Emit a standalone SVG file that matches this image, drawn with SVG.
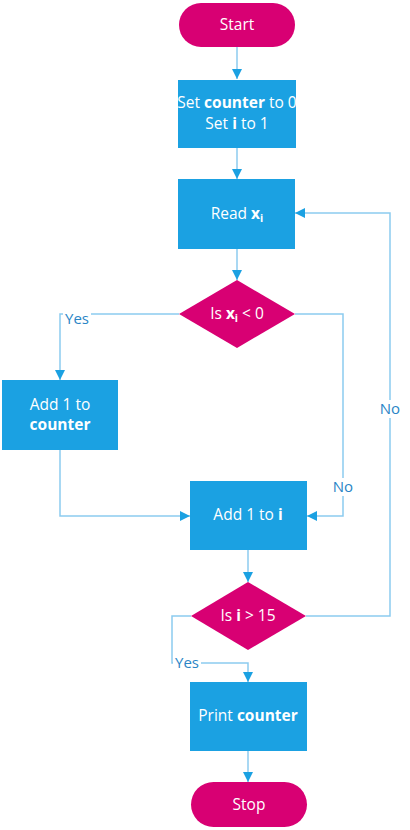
<svg xmlns="http://www.w3.org/2000/svg" width="410" height="830" viewBox="0 0 410 830">
<style>
.box{fill:#1ba1e2}
.dec{fill:#d80073}
.t{font-family:"Open Sans","Noto Sans",sans-serif;font-size:15.5px;fill:#ffffff;text-anchor:middle}
.b{font-weight:bold}
.ln{fill:none;stroke:#8ccbef;stroke-width:1.5}
.lbl{font-family:"Open Sans","Noto Sans",sans-serif;font-size:15px;fill:#2a85c6;text-anchor:middle}
.bg{fill:#ffffff}
</style>
<defs>
<marker id="ah" markerWidth="10" markerHeight="10" refX="10" refY="5" orient="auto" markerUnits="userSpaceOnUse">
<path d="M0,0 L10,5 L0,10 z" fill="#1ba1e2"/>
</marker>
</defs>
<rect width="410" height="830" fill="#ffffff"/>
<g id="connectors">
<path class="ln" d="M237,47 V79" marker-end="url(#ah)"/>
<path class="ln" d="M237,148 V179" marker-end="url(#ah)"/>
<path class="ln" d="M237,249 V280" marker-end="url(#ah)"/>
<path class="ln" d="M179,314 H60 V380" marker-end="url(#ah)"/>
<path class="ln" d="M60,450 V516 H190" marker-end="url(#ah)"/>
<path class="ln" d="M295,314 H343 V516 H307" marker-end="url(#ah)"/>
<path class="ln" d="M248,550 V582" marker-end="url(#ah)"/>
<path class="ln" d="M306,616 H390 V213 H295" marker-end="url(#ah)"/>
<path class="ln" d="M191,616 H172 V663 H248 V682" marker-end="url(#ah)"/>
<path class="ln" d="M248,751 V782" marker-end="url(#ah)"/>
<rect class="bg" x="63" y="308" width="28" height="16"/>
<text class="lbl" x="77" y="324">Yes</text>
<rect class="bg" x="332" y="478" width="22" height="18"/>
<text class="lbl" x="343" y="492">No</text>
<rect class="bg" x="379" y="400" width="22" height="18"/>
<text class="lbl" x="390" y="414">No</text>
<rect class="bg" x="173" y="655" width="28" height="16"/>
<text class="lbl" x="187" y="668">Yes</text>
</g>
<g id="start">
<rect class="dec" x="179" y="3" width="116" height="44" rx="22"/>
<text class="t" x="237" y="30">Start</text>
</g>
<g id="init">
<rect class="box" x="178" y="80" width="118" height="68"/>
<text class="t" x="237" y="108">Set <tspan class="b">counter</tspan> to 0</text>
<text class="t" x="237" y="129">Set <tspan class="b">i</tspan> to 1</text>
</g>
<g id="read">
<rect class="box" x="178" y="179" width="117" height="70"/>
<text class="t" x="237" y="219">Read <tspan class="b">x<tspan font-size="10.5" dy="3">i</tspan></tspan></text>
</g>
<g id="dec1">
<path class="dec" d="M237,280 L295,314 L237,348 L179,314 z"/>
<text class="t" x="237" y="319">Is <tspan class="b">x<tspan font-size="10.5" dy="3">i</tspan></tspan><tspan dy="-3"> &lt; 0</tspan></text>
</g>
<g id="addcounter">
<rect class="box" x="2" y="380" width="116" height="70"/>
<text class="t" x="60" y="410">Add 1 to</text>
<text class="t b" x="60" y="430">counter</text>
</g>
<g id="addi">
<rect class="box" x="190" y="481" width="117" height="69"/>
<text class="t" x="248" y="520">Add 1 to <tspan class="b">i</tspan></text>
</g>
<g id="dec2">
<path class="dec" d="M248,582 L306,616 L248,650 L191,616 z"/>
<text class="t" x="248" y="621">Is <tspan class="b">i</tspan> &gt; 15</text>
</g>
<g id="print">
<rect class="box" x="190" y="682" width="117" height="69"/>
<text class="t" x="248" y="721">Print <tspan class="b">counter</tspan></text>
</g>
<g id="stop">
<rect class="dec" x="191" y="782" width="116" height="45" rx="22.5"/>
<text class="t" x="249" y="810">Stop</text>
</g>
</svg>
